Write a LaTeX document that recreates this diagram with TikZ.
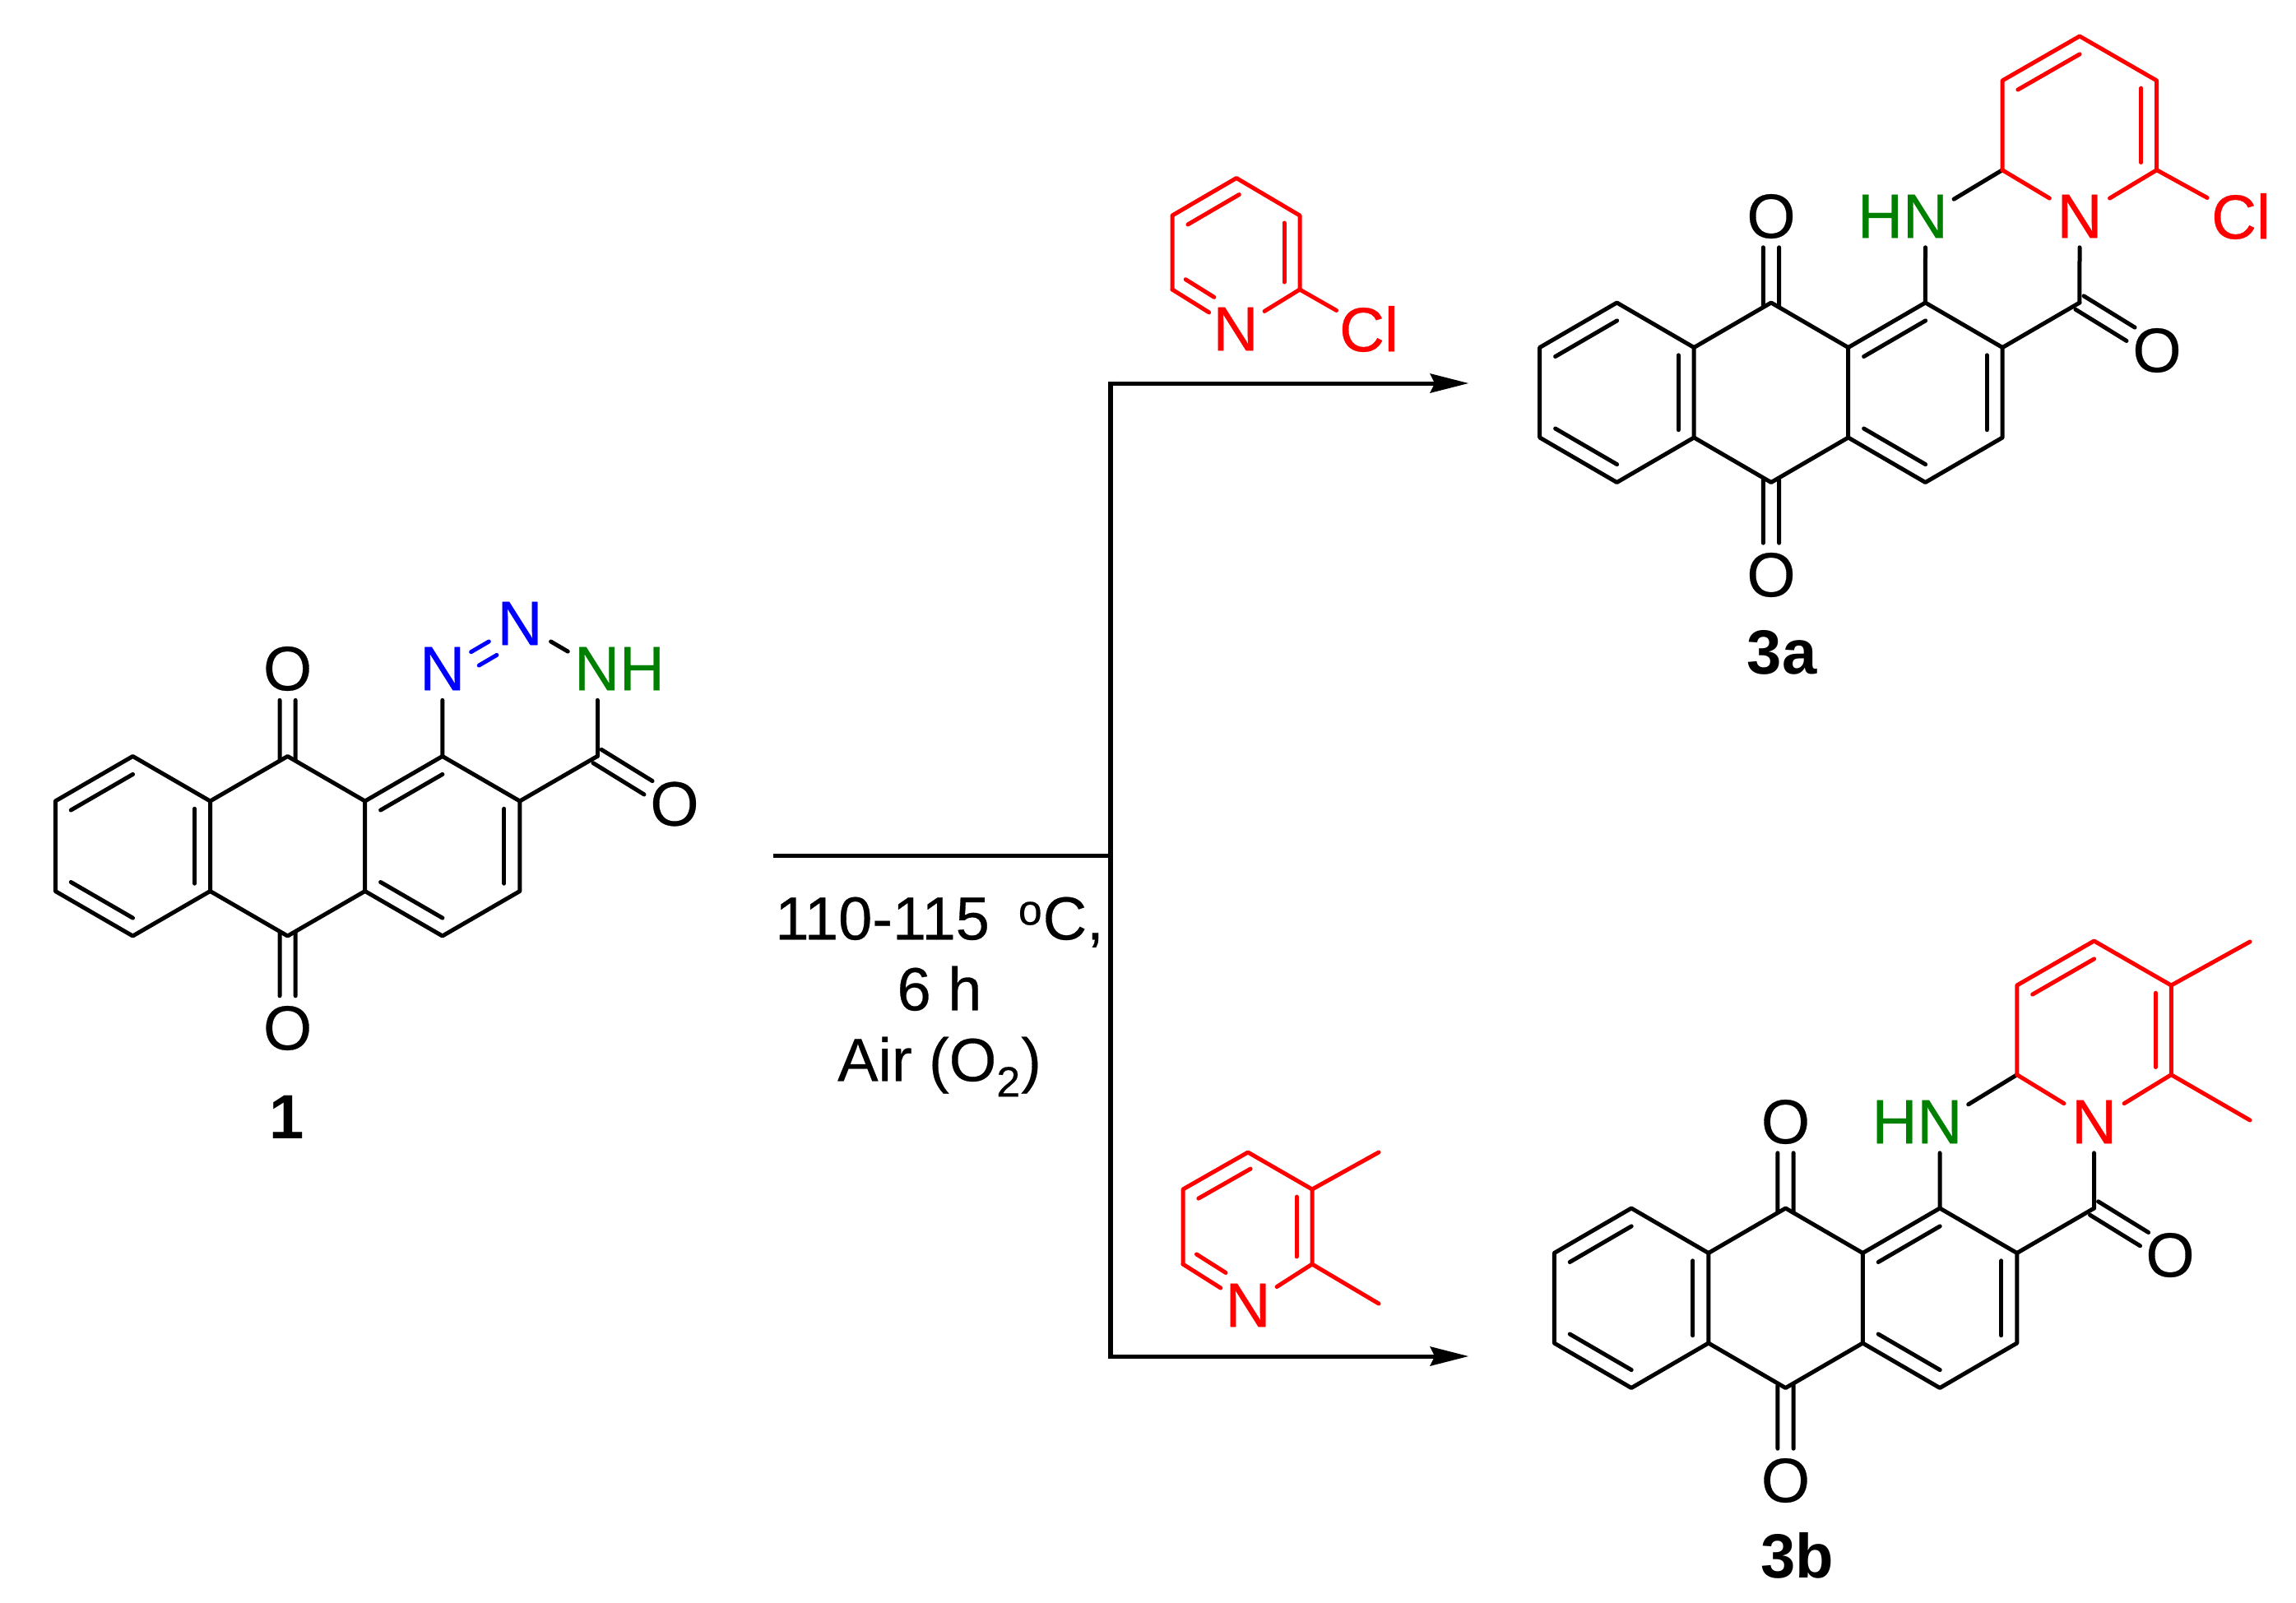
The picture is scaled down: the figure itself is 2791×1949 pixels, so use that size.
\documentclass[tikz,border=0pt]{standalone}
\usepackage{fontspec}
\setmainfont{Liberation Sans}
\newfontfamily\atomfont[FakeBold=0.4]{Liberation Sans}
\usetikzlibrary{calc,arrows.meta}
\definecolor{rd}{HTML}{FF0000}
\definecolor{bl}{HTML}{0000FF}
\definecolor{gr}{HTML}{008000}
\tikzset{
  bond/.style={line width=2.5pt,line cap=round,line join=round},
  atom/.style={inner sep=0pt,outer sep=0pt,font=\fontsize{38}{38}\selectfont\atomfont},
  cpd/.style={inner sep=0pt,outer sep=0pt,font=\fontsize{38}{38}\selectfont\bfseries},
  flow/.style={line width=2.5pt,line cap=butt,line join=miter},
  head/.style={-{Stealth[length=23.5pt,width=12pt,inset=3pt,line width=0pt]}}
}
% inner line of a double bond, on the left of p->q
\newcommand\inb[5][black]{\draw[bond,#1] ($(#2)!#4!(#3)!9.5pt!90:(#3)$) -- ($(#2)!#5!(#3)!9.5pt!90:(#3)$);}
% two lines either side of p->q
\newcommand\twin[4]{%
  \draw[bond] ($(#1)!#3!(#2)!4.8pt!90:(#2)$) -- ($(#1)!#4!(#2)!4.8pt!90:(#2)$);
  \draw[bond] ($(#1)!#3!(#2)!4.8pt!-90:(#2)$) -- ($(#1)!#4!(#2)!4.8pt!-90:(#2)$);}
% part of the line p->q
\newcommand\seg[5][black]{\draw[bond,#1] ($(#2)!#4!(#3)$) -- ($(#2)!#5!(#3)$);}
% anthraquinone skeleton: prefix, x, y, column step
\newcommand\skel[4]{%
  \coordinate (#1a) at (#2+#4,#3);
  \coordinate (#1b) at (#2,#3+54.5);
  \coordinate (#1c) at (#2,#3+164);
  \coordinate (#1d) at (#2+#4,#3+218.5);
  \coordinate (#1e) at (#2+2*#4,#3+164);
  \coordinate (#1f) at (#2+2*#4,#3+54.5);
  \coordinate (#1g) at (#2+3*#4,#3);
  \coordinate (#1h) at (#2+3*#4,#3+218.5);
  \coordinate (#1i) at (#2+4*#4,#3+54.5);
  \coordinate (#1j) at (#2+4*#4,#3+164);
  \coordinate (#1k) at (#2+5*#4,#3);
  \coordinate (#1l) at (#2+5*#4,#3+218.5);
  \coordinate (#1m) at (#2+6*#4,#3+54.5);
  \coordinate (#1n) at (#2+6*#4,#3+164);
  \coordinate (#1o) at (#2+7*#4,#3);
  \draw[bond] (#1a)--(#1b)--(#1c)--(#1d)--(#1e)--(#1f)--cycle;
  \draw[bond] (#1f)--(#1g)--(#1i)--(#1j)--(#1h)--(#1e);
  \draw[bond] (#1i)--(#1k)--(#1m)--(#1n)--(#1l)--(#1j);
  \draw[bond] (#1m)--(#1o);
  \inb{#1a}{#1b}{.1}{.9}
  \inb{#1c}{#1d}{.1}{.9}
  \inb{#1e}{#1f}{.085}{.915}
  \inb{#1k}{#1i}{.1}{.9}
  \inb{#1j}{#1l}{.1}{.9}
  \inb{#1n}{#1m}{.085}{.915}
}
\begin{document}
\begin{tikzpicture}[x=0.5pt,y=-0.5pt]
\useasboundingbox (0,0) rectangle (2791,1949);

%%% compound 1
\skel{A}{67.3}{919.5}{94.1}
\node[atom] (AOt) at (349.6,813) {O};
\node[atom] (AOb) at (349.6,1250) {O};
\node[atom] (AOr) at (820,977.5) {O};
\node[atom,text=bl] (AN1) at (537.8,813) {N};
\node[atom,text=bl] (AN2) at (632,758) {N};
\node[atom,text=gr] (ANH) at (753,813) {NH};
\coordinate (ANc) at (726,813);
\node[cpd] (L1) at (349,1358) {1};
\twin{Ag}{AOt}{-.05}{.64}
\twin{Ah}{AOb}{-.03}{.65}
\twin{Ao}{AOr}{0}{.66}
\seg{Ak}{AN1}{0}{.64}
\seg{Ao}{ANc}{0}{.64}
\seg[bl]{AN1}{AN2}{.37}{.6}
\inb[bl]{AN2}{AN1}{.40}{.63}
\seg{AN2}{ANc}{.40}{.62}

%%% compound 3a
\skel{B}{1871.7}{368}{93.75}
\coordinate (Bp) at (2434,206.7);
\coordinate (Bq) at (2434,98);
\coordinate (Br) at (2528,44);
\coordinate (Bs) at (2621.7,98);
\coordinate (Bt) at (2621.7,206.7);
\coordinate (BHc) at (2340.5,263);
\node[atom,text=rd] (BN) at (2528,263) {N};
\node[atom,text=gr] (BHN) at (2313,263) {HN};
\node[atom,text=rd] (BCl) at (2724,263) {Cl};
\node[atom] (BOt) at (2153,263) {O};
\node[atom] (BOb) at (2153,699) {O};
\node[atom] (BOr) at (2622,426) {O};
\node[cpd] (L3a) at (2166,793) {3a};
\twin{Bg}{BOt}{-.05}{.64}
\twin{Bh}{BOb}{-.03}{.655}
\twin{Bo}{BOr}{0}{.66}
\seg{Bk}{BHc}{0}{.64}
\seg{Bo}{BN}{0}{.64}
\seg{BHc}{Bp}{.37}{1}
\draw[bond,rd] (Bp)--(Bq)--(Br)--(Bs)--(Bt);
\seg[rd]{Bp}{BN}{0}{.61}
\seg[rd]{Bt}{BN}{0}{.61}
\seg[rd]{Bt}{BCl}{0}{.6}
\inb[rd]{Br}{Bq}{.1}{.9}
\inb[rd]{Bt}{Bs}{.085}{.915}

%%% compound 3b
\skel{C}{1889.3}{1469}{93.75}
\coordinate (Cp) at (2451.8,1306.7);
\coordinate (Cq) at (2451.8,1198);
\coordinate (Cr) at (2545.5,1144);
\coordinate (Cs) at (2639.3,1198);
\coordinate (Ct) at (2639.3,1306.7);
\coordinate (Cm1) at (2735,1145);
\coordinate (Cm2) at (2735,1362);
\coordinate (CHc) at (2358,1364);
\node[atom,text=rd] (CN) at (2545.5,1364) {N};
\node[atom,text=gr] (CHN) at (2330.5,1364) {HN};
\node[atom] (COt) at (2170.5,1364) {O};
\node[atom] (COb) at (2170.5,1800) {O};
\node[atom] (COr) at (2638,1526) {O};
\node[cpd] (L3b) at (2185,1891.5) {3b};
\twin{Cg}{COt}{-.05}{.64}
\twin{Ch}{COb}{-.03}{.655}
\twin{Co}{COr}{0}{.66}
\seg{Ck}{CHc}{0}{.64}
\seg{Co}{CN}{0}{.64}
\seg{CHc}{Cp}{.37}{1}
\draw[bond,rd] (Cp)--(Cq)--(Cr)--(Cs)--(Ct);
\draw[bond,rd] (Cs)--(Cm1);
\draw[bond,rd] (Ct)--(Cm2);
\seg[rd]{Cp}{CN}{0}{.61}
\seg[rd]{Ct}{CN}{0}{.61}
\inb[rd]{Cr}{Cq}{.1}{.9}
\inb[rd]{Ct}{Cs}{.085}{.915}

%%% 2-chloropyridine
\coordinate (Da) at (1503,216.5);
\coordinate (Db) at (1425,262);
\coordinate (Dc) at (1425,352);
\coordinate (Dd) at (1580,352);
\coordinate (De) at (1580,262);
\node[atom,text=rd] (DN) at (1502,400) {N};
\node[atom,text=rd] (DCl) at (1664,400) {Cl};
\draw[bond,rd] (Dc)--(Db)--(Da)--(De)--(Dd);
\seg[rd]{Dc}{DN}{0}{.58}
\seg[rd]{Dd}{DN}{0}{.55}
\seg[rd]{Dd}{DCl}{0}{.53}
\inb[rd]{Da}{Db}{.08}{.88}
\inb[rd]{Dd}{De}{.1}{.9}
\inb[rd]{Dc}{DN}{.08}{.53}

%%% 2,3-dimethylpyridine
\coordinate (Ea) at (1517,1401);
\coordinate (Eb) at (1438,1446);
\coordinate (Ec) at (1438,1537);
\coordinate (Ed) at (1595,1537);
\coordinate (Ee) at (1595,1446);
\coordinate (Em1) at (1676,1401);
\coordinate (Em2) at (1676,1585);
\node[atom,text=rd] (EN) at (1517,1587) {N};
\draw[bond,rd] (Ec)--(Eb)--(Ea)--(Ee)--(Ed);
\draw[bond,rd] (Ee)--(Em1);
\draw[bond,rd] (Ed)--(Em2);
\seg[rd]{Ec}{EN}{0}{.58}
\seg[rd]{Ed}{EN}{0}{.55}
\inb[rd]{Ea}{Eb}{.08}{.88}
\inb[rd]{Ed}{Ee}{.1}{.9}
\inb[rd]{Ec}{EN}{.08}{.53}

%%% reaction lines
\coordinate (J0) at (940,1040.3);
\coordinate (J1) at (1350,1040.3);
\coordinate (Jt) at (1350,466);
\coordinate (Jb) at (1350,1649);
\coordinate (T1) at (1785,466);
\coordinate (T2) at (1785,1649);
\draw[flow] (J0)--(J1);
\draw[flow,line width=3pt] ($(Jt)+(0,-2.5)$)--($(Jb)+(0,2.5)$);
\draw[flow,head] (Jt)--(T1);
\draw[flow,head] (Jb)--(T2);
\node[atom,align=center,font=\fontsize{37}{43}\selectfont\atomfont] (Cond) at (1142,1212)
  {110-115\hspace{17.5pt}\textsuperscript{o}C,\\ 6 h\\ Air (O\textsubscript{2})};
\end{tikzpicture}
\end{document}
